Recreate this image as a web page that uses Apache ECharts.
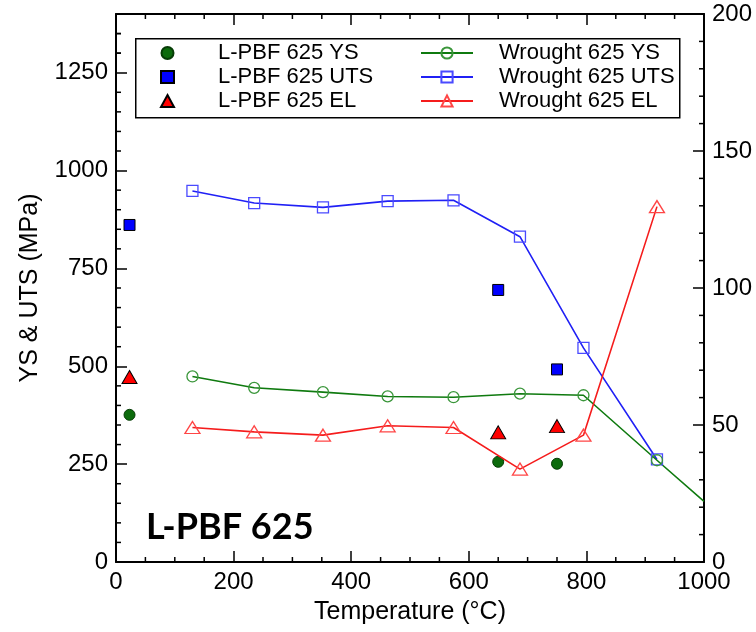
<!DOCTYPE html>
<html>
<head>
<meta charset="utf-8">
<script src="https://cdn.jsdelivr.net/npm/echarts@6/dist/echarts.min.js"></script>
<style>
  html, body { margin: 0; padding: 0; background: #fff; }
  #chart { width: 756px; height: 632px; }
</style>
</head>
<body>
<div id="chart"></div>
<script>
// Wrought 625 reference data (YS/UTS in MPa, EL in %)
const wroughtTemp = [130, 235, 352, 462, 574, 687, 795, 920];
const wroughtYS = [474, 445, 434, 423, 421, 430, 426, 260];
const wroughtYSTail = [1000, 155];   // curve runs on to the axis edge, no marker there
const wroughtUTS = [948, 917, 906, 922, 924, 831, 547, 262];
const wroughtEL = [49.1, 47.5, 46.3, 49.7, 49.1, 33.9, 46.3, 129.7];

// L-PBF 625 measurements
const lpbfTemp = [23, 650, 750];
const lpbfYS = [376, 256, 251];
const lpbfUTS = [861, 695, 492];
const lpbfEL = [67.5, 47.3, 49.6];

// Axis ranges: [min, max, major step, minor step]
const tempRange = [0, 1000, 200, 50];
const stressRange = [0, 1400, 250, 50];
const elongRange = [0, 200, 50, 10];

const seriesNames = {
  lYS: 'L-PBF 625 YS', lUTS: 'L-PBF 625 UTS', lEL: 'L-PBF 625 EL',
  wYS: 'Wrought 625 YS', wUTS: 'Wrought 625 UTS', wEL: 'Wrought 625 EL'
};

const FONT = 'Liberation Sans, Arial, sans-serif';
const zip = (xs, ys) => xs.map((x, i) => [x, ys[i]]);
const plain = v => String(v);

// minor tick positions of an axis range (skips the major ticks and the ends)
function minorValues(range) {
  const out = [];
  for (let v = range[0] + range[3]; v < range[1]; v += range[3]) {
    if (v % range[2] !== 0) out.push(v);
  }
  return out;
}

const chart = echarts.init(document.getElementById('chart'));

const tickStyle = { color: '#000', width: 1.5 };
const axisLineStyle = { color: '#000', width: 2 };
const labelStyle = { fontSize: 24, color: '#000', fontFamily: FONT, margin: 8, formatter: plain };
const MINOR_LEN = 5;

function majorAxis(range, position, showLabels, extra) {
  return Object.assign({
    type: 'value', position: position,
    min: range[0], max: range[1], interval: range[2],
    axisLine: { show: true, onZero: false, lineStyle: axisLineStyle },
    axisTick: { show: true, inside: true, length: 11, lineStyle: tickStyle },
    axisLabel: Object.assign({ show: showLabels }, labelStyle),
    splitLine: { show: false }
  }, extra || {});
}

// short inward tick marks placed through the axis scales
function minorTickSeries(values, yAxisIndex, edge) {
  return {
    type: 'custom', xAxisIndex: 0, yAxisIndex: yAxisIndex, silent: true, clip: false, z: 6,
    data: values.map(v => [v]),
    renderItem: function (params, api) {
      const v = api.value(0);
      let p, d;
      if (edge === 'bottom') { p = api.coord([v, stressRange[0]]); d = [0, -MINOR_LEN]; }
      else if (edge === 'top') { p = api.coord([v, stressRange[1]]); d = [0, MINOR_LEN]; }
      else if (edge === 'left') { p = api.coord([tempRange[0], v]); d = [MINOR_LEN, 0]; }
      else { p = api.coord([tempRange[1], v]); d = [-MINOR_LEN, 0]; }
      return {
        type: 'line',
        shape: { x1: p[0], y1: p[1], x2: p[0] + d[0], y2: p[1] + d[1] },
        style: { stroke: '#000', lineWidth: 1.5 }
      };
    }
  };
}

const option = {
  backgroundColor: '#fff',
  animation: false,
  grid: { left: 116, right: 52, top: 14, bottom: 70, containLabel: false },
  xAxis: [
    majorAxis(tempRange, 'bottom', true, {
      name: 'Temperature (°C)', nameLocation: 'middle', nameGap: 38,
      nameTextStyle: { fontSize: 25, color: '#000', fontFamily: FONT }
    }),
    majorAxis(tempRange, 'top', false)
  ],
  yAxis: [
    majorAxis(stressRange, 'left', true, {
      name: 'YS & UTS (MPa)', nameLocation: 'middle', nameRotate: 90, nameGap: 73,
      nameTextStyle: { fontSize: 25, color: '#000', fontFamily: FONT },
      axisLabel: Object.assign({ showMaxLabel: false }, labelStyle)
    }),
    majorAxis(elongRange, 'right', true)
  ],
  legend: [
    {
      data: [seriesNames.lYS, seriesNames.lUTS, seriesNames.lEL],
      orient: 'vertical', left: 160, top: 41, padding: 0,
      itemWidth: 13, itemHeight: 12, itemGap: 0, selectedMode: false,
      textStyle: { fontSize: 22, color: '#000', fontFamily: FONT, lineHeight: 24, padding: [0, 0, 0, 39] }
    },
    {
      data: [seriesNames.wYS, seriesNames.wUTS, seriesNames.wEL],
      orient: 'vertical', left: 420, top: 41, padding: 0,
      itemWidth: 52, itemHeight: 14, itemGap: 0, selectedMode: false,
      textStyle: { fontSize: 22, color: '#000', fontFamily: FONT, lineHeight: 24, padding: [0, 0, 0, 21] }
    }
  ],
  graphic: [
    {
      type: 'rect', left: 135, top: 38, z: 3,
      shape: { width: 544, height: 79 },
      style: { fill: '#fff', stroke: '#000', lineWidth: 1.5 }
    },
    {
      type: 'text', x: 146, y: 527, z: 5,
      style: { text: 'L-PBF 625', font: 'bold 36px Lato, "Open Sans", sans-serif', fill: '#000', align: 'left', verticalAlign: 'middle' }
    }
  ],
  series: [
    minorTickSeries(minorValues(tempRange), 0, 'bottom'),
    minorTickSeries(minorValues(tempRange), 0, 'top'),
    minorTickSeries(minorValues(stressRange).concat([1300, 1350]), 0, 'left'),
    minorTickSeries(minorValues(elongRange), 1, 'right'),
    {
      name: seriesNames.wUTS, type: 'line', xAxisIndex: 0, yAxisIndex: 0,
      data: zip(wroughtTemp, wroughtUTS),
      symbol: 'rect', symbolSize: 11,
      lineStyle: { color: '#2020f5', width: 1.6 },
      itemStyle: { color: 'rgba(255,255,255,0)', borderColor: '#4a4aff', borderWidth: 1.3 }
    },
    {
      name: seriesNames.wYS, type: 'line', xAxisIndex: 0, yAxisIndex: 0,
      data: zip(wroughtTemp, wroughtYS).concat([{ value: wroughtYSTail, symbol: 'none' }]),
      symbol: 'circle', symbolSize: 11,
      lineStyle: { color: '#0f7a0f', width: 1.6 },
      itemStyle: { color: 'rgba(255,255,255,0)', borderColor: '#3a963a', borderWidth: 1.3 }
    },
    {
      name: seriesNames.wEL, type: 'line', xAxisIndex: 0, yAxisIndex: 1,
      data: zip(wroughtTemp, wroughtEL),
      symbol: 'triangle', symbolSize: [15, 12],
      lineStyle: { color: '#f51c1c', width: 1.6 },
      itemStyle: { color: 'rgba(255,255,255,0)', borderColor: '#ff4646', borderWidth: 1.3 }
    },
    {
      name: seriesNames.lYS, type: 'scatter', xAxisIndex: 0, yAxisIndex: 0,
      data: zip(lpbfTemp, lpbfYS),
      symbol: 'circle', symbolSize: 11,
      itemStyle: { color: '#0c6b0c', borderColor: '#073d07', borderWidth: 1, opacity: 1 }
    },
    {
      name: seriesNames.lUTS, type: 'scatter', xAxisIndex: 0, yAxisIndex: 0,
      data: zip(lpbfTemp, lpbfUTS),
      symbol: 'rect', symbolSize: 11,
      itemStyle: { color: '#0000ff', borderColor: '#000', borderWidth: 1, opacity: 1 }
    },
    {
      name: seriesNames.lEL, type: 'scatter', xAxisIndex: 0, yAxisIndex: 1,
      data: zip(lpbfTemp, lpbfEL),
      symbol: 'triangle', symbolSize: [15, 13],
      itemStyle: { color: '#ff0000', borderColor: '#000', borderWidth: 1, opacity: 1 }
    }
  ]
};

chart.setOption(option);
</script>
</body>
</html>
